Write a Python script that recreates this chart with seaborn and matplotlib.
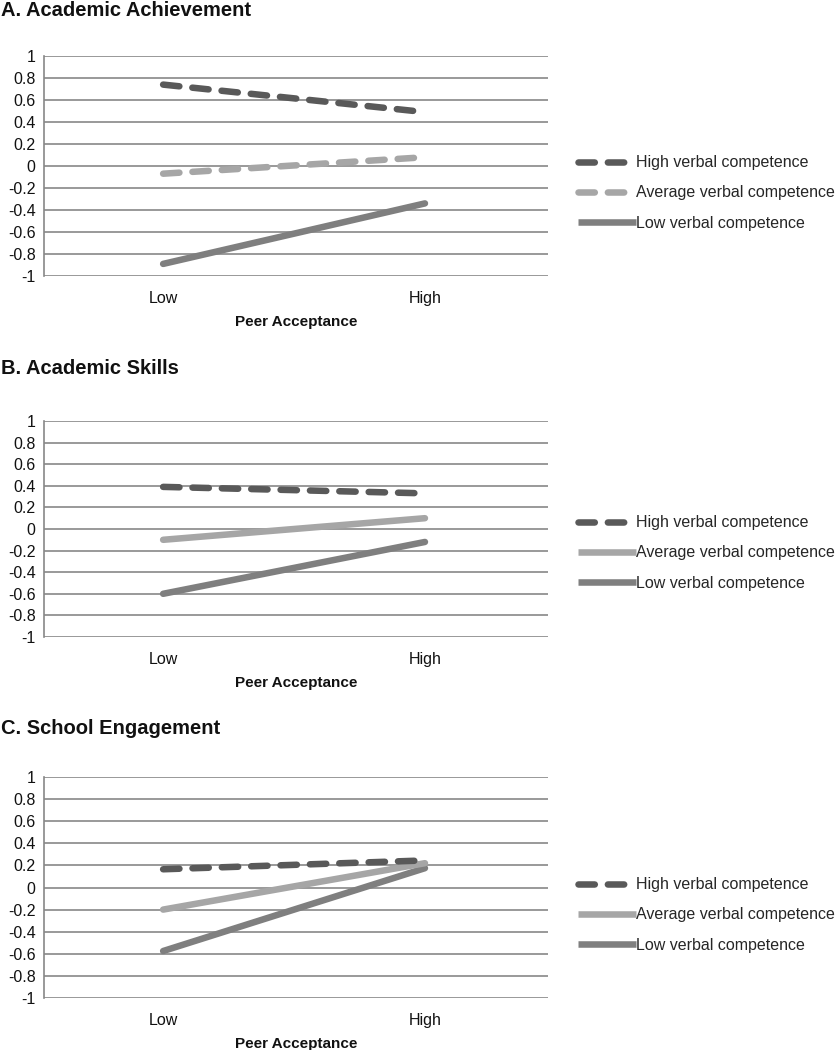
import numpy as np
import pandas as pd
import matplotlib
matplotlib.use("Agg")
import matplotlib.pyplot as plt
import seaborn as sns
from matplotlib.lines import Line2D

# ---------------- data ----------------
peer_levels = ["Low", "High"]
series_names = ["High verbal competence", "Average verbal competence", "Low verbal competence"]
panel_titles = ["A. Academic Achievement", "B. Academic Skills", "C. School Engagement"]

achievement_high = [0.74, 0.49]
achievement_avg = [-0.07, 0.08]
achievement_low = [-0.89, -0.34]

skills_high = [0.39, 0.33]
skills_avg = [-0.10, 0.10]
skills_low = [-0.60, -0.12]

engagement_high = [0.165, 0.245]
engagement_avg = [-0.20, 0.22]
engagement_low = [-0.575, 0.175]

y_ticks = [1, 0.8, 0.6, 0.4, 0.2, 0, -0.2, -0.4, -0.6, -0.8, -1]
y_tick_labels = ["1", "0.8", "0.6", "0.4", "0.2", "0", "-0.2", "-0.4", "-0.6", "-0.8", "-1"]

panels = [
    (achievement_high, achievement_avg, achievement_low, [True, True, False]),
    (skills_high, skills_avg, skills_low, [True, False, False]),
    (engagement_high, engagement_avg, engagement_low, [True, False, False]),
]

colors = ["#595959", "#a6a6a6", "#7f7f7f"]

# ---------------- figure ----------------
sns.set_theme(style="white")
plt.rcParams["font.family"] = ["Liberation Sans", "DejaVu Sans"]

W, H = 839, 1050
fig = plt.figure(figsize=(W / 100, H / 100), dpi=100)

# pixel geometry of the three plot areas (top, bottom)
areas = [(56, 276), (421, 637), (777, 998)]
title_y = [10, 368, 729]
left_px, right_px = 44, 548
legend_y = [193, 553, 915]

grid_color = "#878787"
lw = 4.7
dash_pattern = (2.5, 2.0)

for i, ((hi, av, lo, dashed), (top, bot)) in enumerate(zip(panels, areas)):
    ax = fig.add_axes([left_px / W, 1 - bot / H, (right_px - left_px) / W, (bot - top) / H])
    df = pd.DataFrame({
        "Peer Acceptance": peer_levels * 3,
        "value": hi + av + lo,
        "series": [series_names[0]] * 2 + [series_names[1]] * 2 + [series_names[2]] * 2,
    })
    handles = []
    # draw order: low, average, high (high on top)
    for k in [2, 1, 0]:
        sub = df[df["series"] == series_names[k]]
        sns.lineplot(data=sub, x="Peer Acceptance", y="value", ax=ax, color=colors[k],
                     linewidth=lw, legend=False, sort=False, zorder=3 + (2 - k))
        line = ax.lines[-1]
        line.set_solid_capstyle("round")
        line.set_dash_capstyle("round")
        if dashed[k]:
            line.set_dashes(dash_pattern)
    for k in range(3):
        h = Line2D([0], [0], color=colors[k], linewidth=lw,
                   solid_capstyle="butt", dash_capstyle="round")
        if dashed[k]:
            h.set_dashes(dash_pattern)
        handles.append(h)

    ax.set_xlim(-0.455, 1.47)
    ax.set_ylim(-1, 1)
    ax.set_yticks(y_ticks)
    ax.set_yticklabels(y_tick_labels)
    for y in y_ticks:
        ax.axhline(y, color=grid_color, linewidth=1.2, zorder=1)
    for s in ["top", "right", "bottom"]:
        ax.spines[s].set_visible(False)
    ax.spines["left"].set_color(grid_color)
    ax.spines["left"].set_linewidth(1.2)
    ax.tick_params(axis="y", length=0, pad=6, labelsize=11.5, labelcolor="#111111")
    ax.tick_params(axis="x", length=0, pad=11, labelsize=11.5, labelcolor="#111111")
    ax.set_ylabel("")
    ax.set_xlabel("Peer Acceptance", fontsize=11, fontweight="bold", labelpad=6, color="#111111")
    ax.set_facecolor("white")

    leg_frac = (bot - legend_y[i]) / (bot - top)
    ax.legend(handles, series_names, loc="center left",
              bbox_to_anchor=(1 + (578 - right_px) / (right_px - left_px), leg_frac),
              frameon=False, fontsize=11.5, handlelength=3.6, handletextpad=0.05,
              labelspacing=0.95, borderaxespad=0, borderpad=0)

    fig.text(0.001, 1 - title_y[i] / H, panel_titles[i], ha="left", va="center",
             fontsize=14.5, fontweight="bold", color="#111111")

fig.savefig("out.png", dpi=100, facecolor="white")
